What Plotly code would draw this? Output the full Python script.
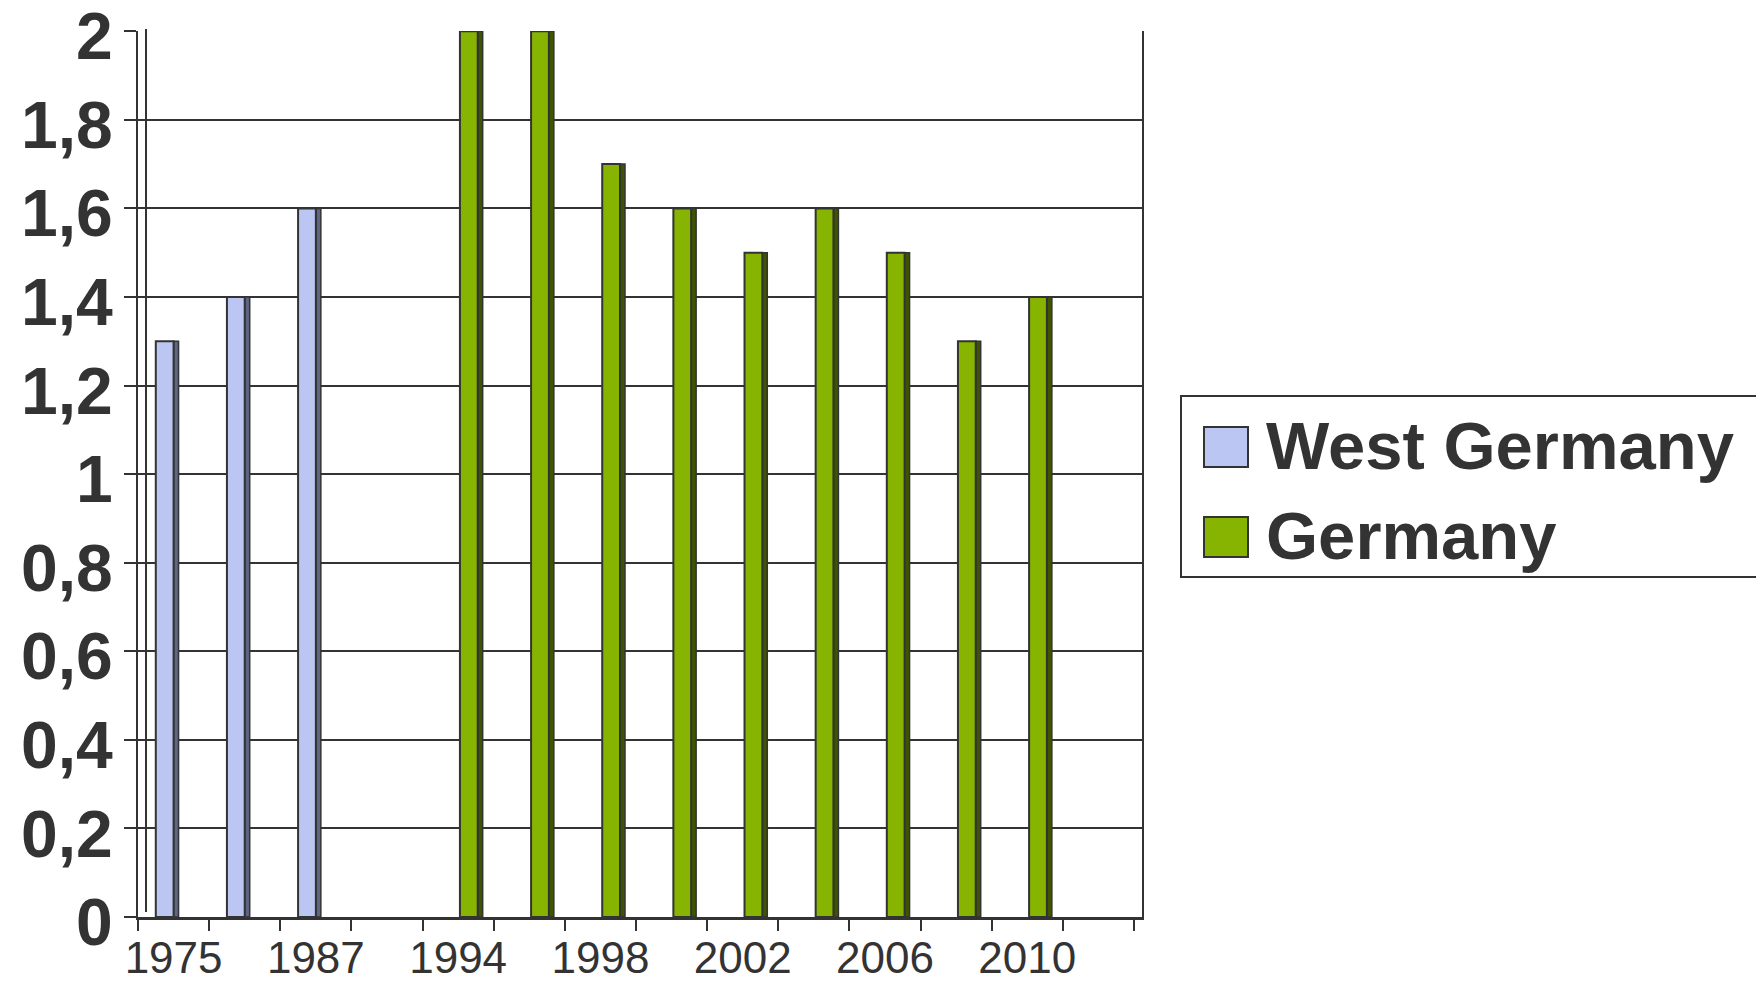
import plotly.graph_objects as go

# ---------------- data ----------------
categories = ["1975", "1981", "1987", "1990", "1994", "1996", "1998",
              "2000", "2002", "2004", "2006", "2008", "2010", "2012"]
tick_labels = ["1975", "", "1987", "", "1994", "", "1998",
               "", "2002", "", "2006", "", "2010", ""]
west_germany = [1.3, 1.4, 1.6, None, None, None, None,
                None, None, None, None, None, None, None]
germany = [None, None, None, None, 2.0, 2.0, 1.7,
           1.6, 1.5, 1.6, 1.5, 1.3, 1.4, None]
series_names = ["West Germany", "Germany"]
y_ticks = [0, 0.2, 0.4, 0.6, 0.8, 1.0, 1.2, 1.4, 1.6, 1.8, 2.0]

# ---------------- styling ----------------
W, H = 1756, 982
PL, PR, PT, PB = 138, 1142, 31, 917          # plot area in pixels
FONT = "Liberation Sans, Arial, sans-serif"
INK = "#333333"
col_west, side_west = "#BBC6F3", "#5E6684"
col_ger, side_ger = "#86B400", "#3F5400"
BW = 0.25        # front face width (category units)
SW = 0.07        # side face width
DEPTH = 0.112    # extra room on the right for the 3D back wall


def px_x(p):
    return (p - PL) / (PR - PL)


def px_y(p):
    return (PB - p) / (PB - PT)


fig = go.Figure()
# side faces (drawn first)
fig.add_trace(go.Bar(x=categories, y=west_germany, width=SW, offset=-0.25 + BW,
                     marker=dict(color=side_west, line=dict(color=INK, width=1.5)),
                     showlegend=False, hoverinfo="skip"))
fig.add_trace(go.Bar(x=categories, y=germany, width=SW, offset=0.025 + BW,
                     marker=dict(color=side_ger, line=dict(color=INK, width=1.5)),
                     showlegend=False, hoverinfo="skip"))
# front faces
fig.add_trace(go.Bar(x=categories, y=west_germany, width=BW, offset=-0.25,
                     name=series_names[0],
                     marker=dict(color=col_west, line=dict(color=INK, width=2))))
fig.add_trace(go.Bar(x=categories, y=germany, width=BW, offset=0.025,
                     name=series_names[1],
                     marker=dict(color=col_ger, line=dict(color=INK, width=2))))

shapes = []
# back wall left line (3D look)
shapes.append(dict(type="line", xref="paper", yref="paper",
                   x0=px_x(146), x1=px_x(146), y0=px_y(912), y1=px_y(29),
                   line=dict(color=INK, width=2)))
# legend box
shapes.append(dict(type="rect", xref="paper", yref="paper",
                   x0=px_x(1181), x1=px_x(1800), y0=px_y(577), y1=px_y(396),
                   line=dict(color=INK, width=2), fillcolor="white"))
legend_cols = [col_west, col_ger]
legend_y = [447, 537]
annotations = []
for name, c, yc in zip(series_names, legend_cols, legend_y):
    shapes.append(dict(type="rect", xref="paper", yref="paper",
                       x0=px_x(1204), x1=px_x(1248), y0=px_y(yc + 20), y1=px_y(yc - 20),
                       line=dict(color=INK, width=2), fillcolor=c))
    annotations.append(dict(xref="paper", yref="paper", x=px_x(1264), y=px_y(yc - 2),
                            xanchor="left", yanchor="middle", showarrow=False,
                            text="<b>%s</b>" % name,
                            font=dict(family=FONT, size=67, color=INK)))

fig.update_layout(
    width=W, height=H, autosize=False,
    margin=dict(l=PL, r=W - PR, t=PT, b=H - PB, pad=0),
    paper_bgcolor="white", plot_bgcolor="white",
    barmode="overlay", showlegend=False,
    separators=",.",
    shapes=shapes, annotations=annotations,
    font=dict(family=FONT, color=INK),
    xaxis=dict(type="category", categoryorder="array", categoryarray=categories,
               tickmode="array", tickvals=categories, ticktext=tick_labels,
               tickson="boundaries", ticks="outside", ticklen=11, tickwidth=2,
               tickcolor=INK, showline=True, linecolor=INK, linewidth=3,
               showgrid=False, range=[-0.5, len(categories) - 0.5 + DEPTH],
               tickangle=0, automargin=False,
               tickfont=dict(family=FONT, size=44, color=INK)),
    yaxis=dict(range=[0, 2.0005], tickmode="array", tickvals=y_ticks,
               ticks="outside", ticklen=12, tickwidth=2, tickcolor=INK,
               showline=True, linecolor=INK, linewidth=2, mirror=True,
               showgrid=True, gridcolor=INK, gridwidth=2, zeroline=False,
               ticklabelstandoff=-2, ticklabelshift=5, automargin=False,
               ticklabeloverflow="allow",
               tickfont=dict(family=FONT, size=66, color=INK, weight="bold")),
)

fig.write_html("out.html", config={"displayModeBar": False},
               post_script="document.body.style.margin='0';")
